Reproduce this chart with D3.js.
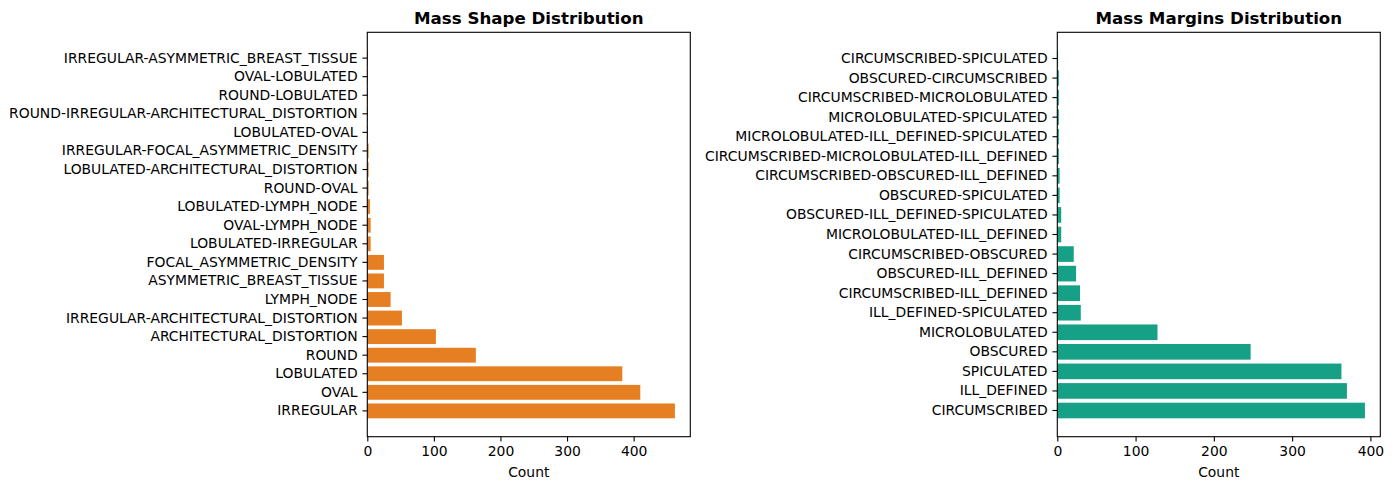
<!DOCTYPE html>
<html>
<head>
<meta charset="utf-8">
<script src="https://cdn.jsdelivr.net/npm/d3@7/dist/d3.min.js"></script>
<style>
  html, body { margin: 0; padding: 0; background: #fff; }
  svg { display: block; }
  text { font-family: "DejaVu Sans", sans-serif; }
</style>
</head>
<body>
<svg id="chart" width="1394" height="490"></svg>
<script>
// ---- Data (index 0 = bottom bar) ----
const shapeCategories = [
  "IRREGULAR", "OVAL", "LOBULATED", "ROUND", "ARCHITECTURAL_DISTORTION",
  "IRREGULAR-ARCHITECTURAL_DISTORTION", "LYMPH_NODE", "ASYMMETRIC_BREAST_TISSUE",
  "FOCAL_ASYMMETRIC_DENSITY", "LOBULATED-IRREGULAR", "OVAL-LYMPH_NODE",
  "LOBULATED-LYMPH_NODE", "ROUND-OVAL", "LOBULATED-ARCHITECTURAL_DISTORTION",
  "IRREGULAR-FOCAL_ASYMMETRIC_DENSITY", "LOBULATED-OVAL",
  "ROUND-IRREGULAR-ARCHITECTURAL_DISTORTION", "ROUND-LOBULATED", "OVAL-LOBULATED",
  "IRREGULAR-ASYMMETRIC_BREAST_TISSUE"
];
const shapeCounts = [462, 410, 383, 163, 103, 52, 35, 25, 25, 5, 5, 4, 2, 2, 2, 1, 1, 1, 1, 1];

const marginCategories = [
  "CIRCUMSCRIBED", "ILL_DEFINED", "SPICULATED", "OBSCURED", "MICROLOBULATED",
  "ILL_DEFINED-SPICULATED", "CIRCUMSCRIBED-ILL_DEFINED", "OBSCURED-ILL_DEFINED",
  "CIRCUMSCRIBED-OBSCURED", "MICROLOBULATED-ILL_DEFINED", "OBSCURED-ILL_DEFINED-SPICULATED",
  "OBSCURED-SPICULATED", "CIRCUMSCRIBED-OBSCURED-ILL_DEFINED",
  "CIRCUMSCRIBED-MICROLOBULATED-ILL_DEFINED", "MICROLOBULATED-ILL_DEFINED-SPICULATED",
  "MICROLOBULATED-SPICULATED", "CIRCUMSCRIBED-MICROLOBULATED", "OBSCURED-CIRCUMSCRIBED",
  "CIRCUMSCRIBED-SPICULATED"
];
const marginCounts = [393, 370, 363, 247, 128, 30, 29, 24, 21, 5, 5, 3, 3, 2, 2, 2, 2, 2, 1];

const xTicks = [0, 100, 200, 300, 400];
const titles = ["Mass Shape Distribution", "Mass Margins Distribution"];
const xLabel = "Count";
const colors = ["#e67e22", "#16a085"];

// ---- Drawing ----
const svg = d3.select("#chart");
svg.append("rect").attr("width", 1394).attr("height", 490).attr("fill", "#fff");

const TOP = 32.3, BOTTOM = 436.7;
const panels = [
  { x0: 367.3, x1: 690.3, cats: shapeCategories, vals: shapeCounts, title: titles[0], color: colors[0] },
  { x0: 1057.3, x1: 1380.3, cats: marginCategories, vals: marginCounts, title: titles[1], color: colors[1] }
];

const FS = 13.9;
const TICK = 4.86;
const PAD = 4.86;
const LW = 1.1;

panels.forEach(p => {
  const n = p.cats.length;
  const x = d3.scaleLinear().domain([0, d3.max(p.vals) * 1.05]).range([p.x0, p.x1]);
  const y = d3.scaleBand()
    .domain(d3.range(n))
    .range([BOTTOM, TOP])
    .paddingInner(0.2)
    .paddingOuter(0.05 * (n - 0.2));

  const g = svg.append("g");

  g.selectAll("rect.bar")
    .data(p.vals)
    .join("rect")
    .attr("class", "bar")
    .attr("x", x(0))
    .attr("y", (d, i) => y(i))
    .attr("width", d => x(d) - x(0))
    .attr("height", y.bandwidth())
    .attr("fill", p.color);

  // y axis
  const yAxis = d3.axisLeft(y).tickSize(TICK).tickPadding(PAD).tickFormat(i => p.cats[i]);
  const ya = g.append("g").attr("transform", `translate(${p.x0},0)`).call(yAxis);
  ya.select(".domain").remove();
  ya.selectAll(".tick line").attr("stroke", "#000").attr("stroke-width", LW);
  ya.selectAll(".tick text").attr("fill", "#000").style("font-size", FS + "px")
    .style("font-family", "DejaVu Sans");

  // x axis
  const xAxis = d3.axisBottom(x).tickValues(xTicks).tickSize(TICK).tickPadding(PAD).tickFormat(d3.format("d"));
  const xa = g.append("g").attr("transform", `translate(0,${BOTTOM})`).call(xAxis);
  xa.select(".domain").remove();
  xa.selectAll(".tick line").attr("stroke", "#000").attr("stroke-width", LW);
  xa.selectAll(".tick text").attr("fill", "#000").style("font-size", FS + "px")
    .style("font-family", "DejaVu Sans");

  // spines
  g.append("rect")
    .attr("x", p.x0).attr("y", TOP)
    .attr("width", p.x1 - p.x0).attr("height", BOTTOM - TOP)
    .attr("fill", "none").attr("stroke", "#000").attr("stroke-width", LW);

  // title
  g.append("text")
    .attr("x", (p.x0 + p.x1) / 2).attr("y", 24)
    .attr("text-anchor", "middle")
    .style("font-size", "16.67px").style("font-weight", "bold")
    .attr("fill", "#000")
    .text(p.title);

  // x label
  g.append("text")
    .attr("x", (p.x0 + p.x1) / 2).attr("y", 477)
    .attr("text-anchor", "middle")
    .style("font-size", FS + "px")
    .attr("fill", "#000")
    .text(xLabel);
});
</script>
</body>
</html>
